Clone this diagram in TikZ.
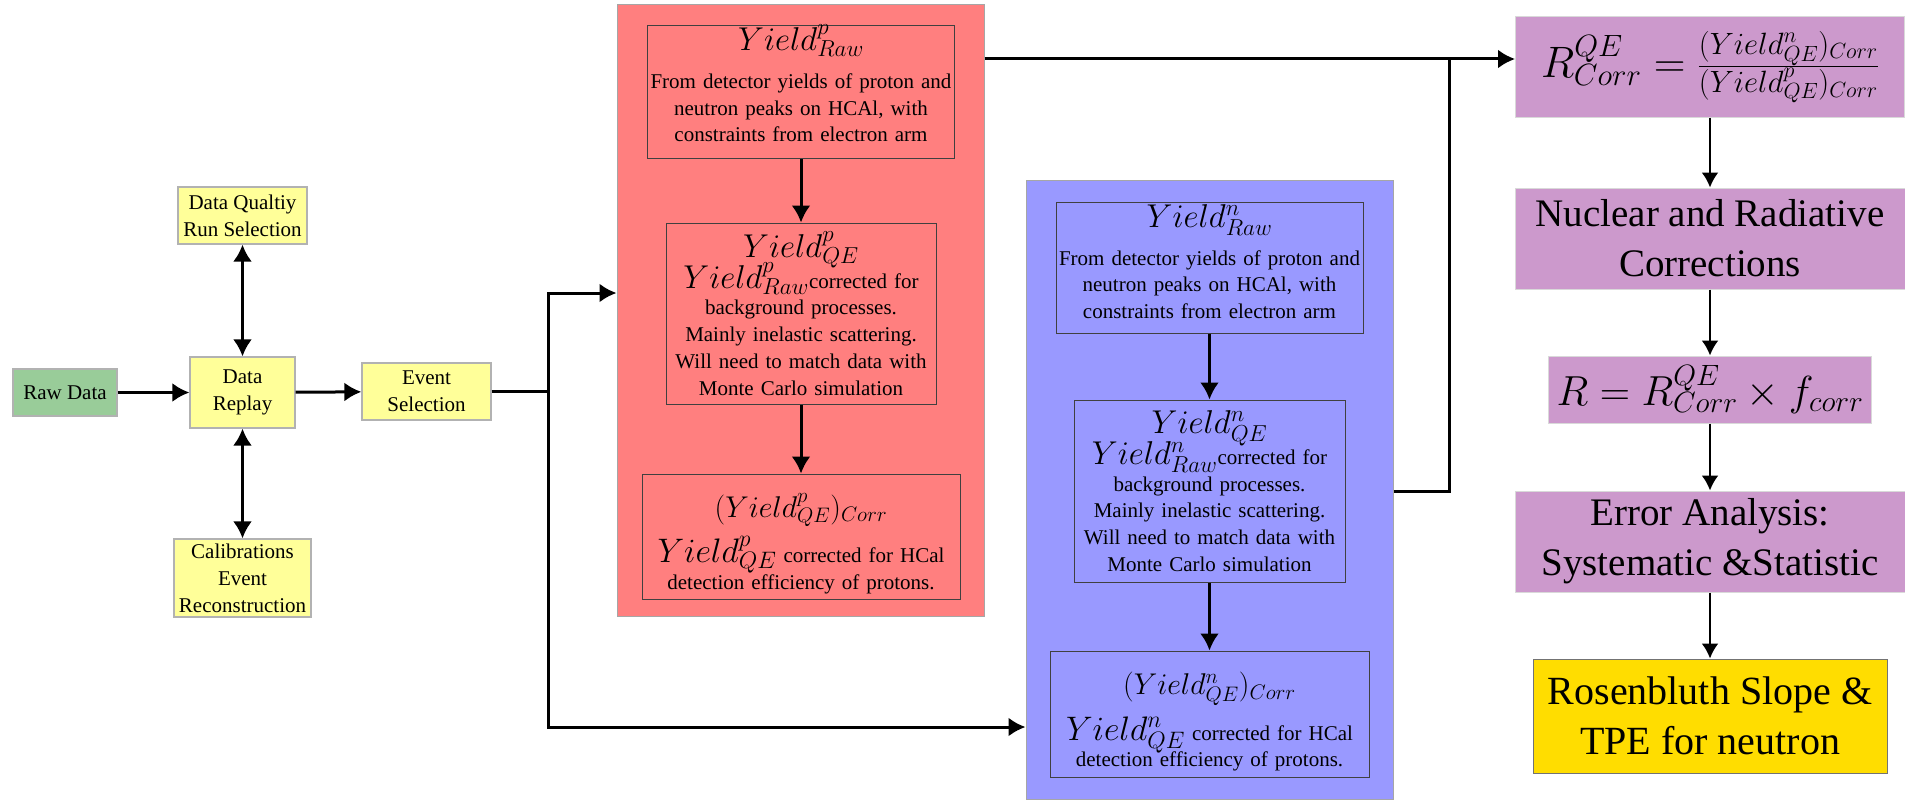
\RequirePackage{fix-cm}
\documentclass[tikz,border=0pt]{standalone}
\usepackage{fontspec}
\setmainfont{Liberation Serif}
\usepackage{tikz}
\usetikzlibrary{arrows.meta,positioning}

\definecolor{rawgreen}{HTML}{99CC99}
\definecolor{lightyel}{HTML}{FFFF99}
\definecolor{protonred}{HTML}{FF7F7F}
\definecolor{neutronblue}{HTML}{9999FF}
\definecolor{anapurple}{HTML}{CC99CC}
\definecolor{resultgold}{HTML}{FFDD00}

\newcommand{\yieldmath}[1]{{\fontsize{33}{33}\selectfont$#1$}}

\begin{document}
\begin{tikzpicture}[x=1pt,y=-1pt,
    every node/.style={inner sep=0pt,align=center},
    stagebox/.style={draw=black!30,line width=1.2pt,fill=lightyel,
      font=\fontsize{21}{27}\selectfont},
    panel/.style={draw=black!35,line width=1pt},
    yieldbox/.style={draw=black!75,line width=1pt,
      font={\fontsize{21}{26.7}\selectfont\lineskiplimit=-100pt\relax}},
    anabox/.style={draw=black!15,line width=1pt,fill=anapurple,
      font=\fontsize{39}{50}\selectfont},
    flow/.style={-{Latex[length=17pt,width=19pt]},line width=3pt},
    twoway/.style={{Latex[length=17pt,width=19pt]}-{Latex[length=17pt,width=19pt]},line width=3pt},
    joint/.style={line width=3pt},
    stepflow/.style={-{Latex[length=15pt,width=17pt]},line width=2.2pt}]
  \useasboundingbox (0,0) rectangle (1905,800);

  % left chain
  \draw (65,392.5) node[stagebox,fill=rawgreen,minimum width=104pt,minimum height=47pt] (raw) {Raw Data};
  \draw (242.5,392.5) node[stagebox,minimum width=105pt,minimum height=71pt] (replay) {Data\\Replay};
  \draw (242.5,215.5) node[stagebox,minimum width=129pt,minimum height=57pt] (quality) {Data Qualtiy\\Run Selection};
  \draw (242.5,578) node[stagebox,minimum width=137pt,minimum height=78pt] (calib) {Calibrations\\Event\\Reconstruction};
  \draw (426.5,391.5) node[stagebox,minimum width=129pt,minimum height=57pt] (evsel) {Event\\Selection};

  % proton and neutron panels
  \draw (800.5,310.5) node[panel,fill=protonred,minimum width=367pt,minimum height=611pt] (ppanel) {};
  \draw (1209.5,489.5) node[panel,fill=neutronblue,minimum width=367pt,minimum height=619pt] (npanel) {};

  \draw (801,92) node[yieldbox,text width=307pt,minimum height=130pt] (praw)
    {\yieldmath{Yield^p_{Raw}}\\[11pt]From detector yields of proton and\\neutron peaks on HCAl, with\\constraints from electron arm\rule[-17pt]{0pt}{17pt}};
  \draw (801,313.5) node[yieldbox,text width=270pt,minimum height=181pt] (pqe)
    {\yieldmath{Yield^p_{QE}}\\[4pt]\yieldmath{Yield^p_{Raw}}corrected for\\background processes.\\Mainly inelastic scattering.\\Will need to match data with\\Monte Carlo simulation};
  \draw (801,536.5) node[yieldbox,text width=318pt,minimum height=125pt] (pcorr)
    {\rule{0pt}{38pt}{\fontsize{30}{30}\selectfont$(Yield^p_{QE})_{Corr}$}\\[19pt]{\fontsize{34}{34}\selectfont$Yield^p_{QE}$} corrected for HCal\\detection efficiency of protons.};

  \draw (1209.5,267.5) node[yieldbox,text width=307pt,minimum height=131pt] (nraw)
    {\yieldmath{Yield^n_{Raw}}\\[11pt]From detector yields of proton and\\neutron peaks on HCAl, with\\constraints from electron arm\rule[-12pt]{0pt}{12pt}};
  \draw (1209.5,491) node[yieldbox,text width=271pt,minimum height=182pt] (nqe)
    {\yieldmath{Yield^n_{QE}}\\[4pt]\yieldmath{Yield^n_{Raw}}corrected for\\background processes.\\Mainly inelastic scattering.\\Will need to match data with\\Monte Carlo simulation};
  \draw (1209.5,714) node[yieldbox,text width=319pt,minimum height=126pt] (ncorr)
    {\rule{0pt}{38pt}{\fontsize{30}{30}\selectfont$(Yield^n_{QE})_{Corr}$}\\[19pt]{\fontsize{34}{34}\selectfont$Yield^n_{QE}$} corrected for HCal\\detection efficiency of protons.};

  % analysis column
  \draw (1710,67) node[anabox,minimum width=389pt,minimum height=100pt] (ratio)
    {{\fontsize{44}{44}\selectfont$R^{QE}_{Corr}=\frac{(Yield^n_{QE})_{Corr}}{(Yield^p_{QE})_{Corr}}$}};
  \draw (1710,238.5) node[anabox,minimum width=390pt,minimum height=101pt] (nucl) {Nuclear and Radiative\\Corrections};
  \draw (1710,389.5) node[anabox,minimum width=323pt,minimum height=67pt] (rfin)
    {{\fontsize{42}{42}\selectfont$R=R^{QE}_{Corr}\times f_{corr}$}};
  \draw (1710,541.5) node[anabox,minimum width=390pt,minimum height=101pt] (err) {Error Analysis:\\Systematic \&Statistic};
  \draw (1710,716) node[anabox,draw=black!55,fill=resultgold,minimum width=354pt,minimum height=114pt,
    font=\fontsize{40}{50}\selectfont] (rosen) {Rosenbluth Slope \&\\TPE for neutron};

  \coordinate (split) at (548,391.5);
  \coordinate (ptop) at (548,293);
  \coordinate (nbot) at (548,727);
  \coordinate (rline) at (1449,59);
  \coordinate (njoin) at (1449,491);

  \draw[flow] (raw) -- (replay);
  \draw[twoway] (quality) -- (replay);
  \draw[twoway] (replay) -- (calib);
  \draw[flow] (replay) -- (evsel);
  \draw[joint] (evsel) -- (split);
  \draw[flow] (split) |- (ptop -| ppanel.west);
  \draw[flow] (split) |- (nbot -| npanel.west);

  \draw[flow] (praw) -- (pqe);
  \draw[flow] (pqe) -- (pcorr);
  \draw[flow] (nraw) -- (nqe);
  \draw[flow] (nqe) -- (ncorr);

  \draw[flow] (rline -| ppanel.east) -- (rline -| ratio.west);
  \draw[joint] (njoin -| npanel.east) -- (njoin) -- (rline);

  \draw[stepflow] (ratio) -- (nucl);
  \draw[stepflow] (nucl) -- (rfin);
  \draw[stepflow] (rfin) -- (err);
  \draw[stepflow] (err) -- (rosen);
\end{tikzpicture}
\end{document}
